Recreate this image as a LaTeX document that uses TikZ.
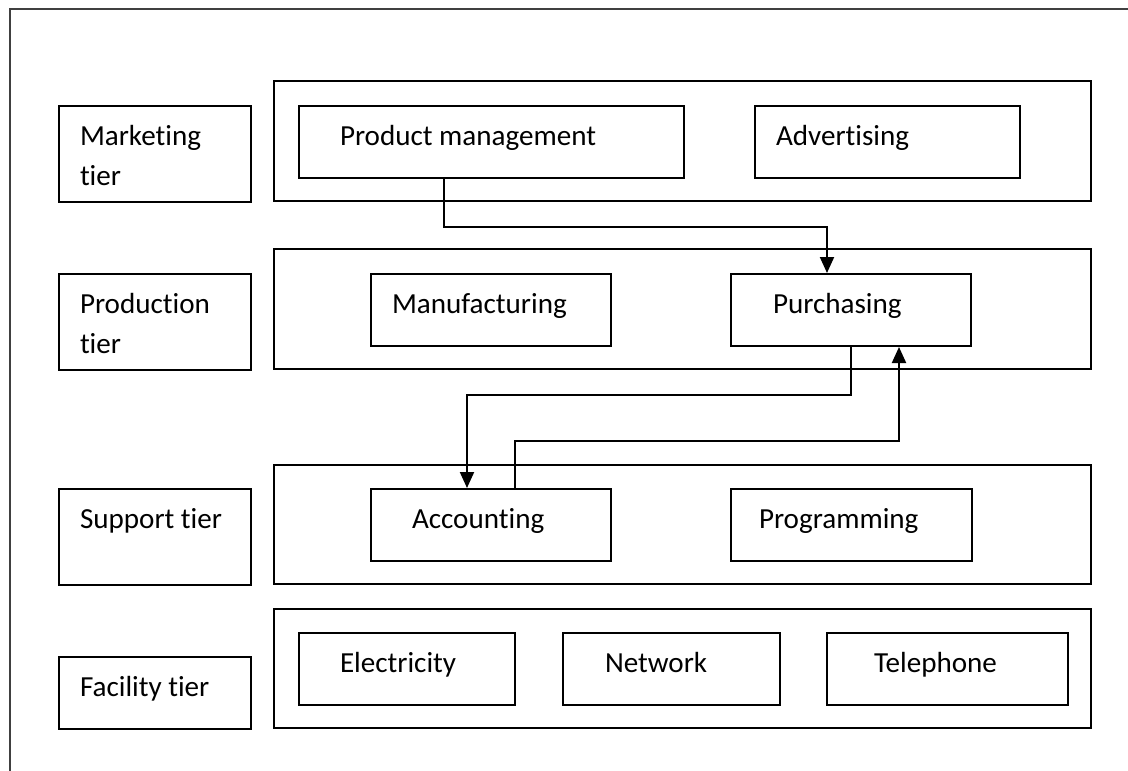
\documentclass[tikz,border=0pt]{standalone}
\usepackage{fontspec}
\setmainfont{Carlito}[Ligatures=NoCommon]
\usetikzlibrary{arrows.meta}

\begin{document}
\begin{tikzpicture}[x=1pt,y=-1pt]
    \tikzstyle{every node}=[font=\fontsize{29.1}{40}\selectfont]
    \tikzstyle{box}=[draw, line width=2pt, anchor=north west, align=left, inner ysep=0pt, text height=39.5pt,
        execute at begin node={\spaceskip=0.226em\relax}]
    \tikzstyle{tier}=[box, inner xsep=21pt, text width=150pt, text depth=56.5pt]
    \tikzstyle{unit}=[box, text depth=32.5pt]
    \tikzstyle{frame}=[draw, line width=2pt]
    \tikzstyle{flow}=[line width=2pt, -{Triangle[length=16pt,width=14pt]}]
    \useasboundingbox (0,0) rectangle (1128,771);
    \draw[line width=1.8pt, black!75] (10,771) -- (10,9) -- (1128,9);

    % tier names
    \node[tier] (mkt) at (58,105) {Marketing\\tier};
    \node[tier] (prd) at (58,273) {Production\\tier};
    \node[tier] (sup) at (58,488) {Support tier};
    \node[tier, text depth=32.5pt] (fac) at (58,656) {Facility tier};

    % one frame per tier
    \draw[frame] (273.5,81) rectangle (1091,201);
    \draw[frame] (273.5,249) rectangle (1091,369);
    \draw[frame] (273.5,465) rectangle (1091,584);
    \draw[frame] (273.5,609) rectangle (1091,728);

    % units
    \node[unit, inner xsep=41pt, text width=303pt] (pm) at (298,105) {Product management};
    \node[unit, inner xsep=21pt, text width=223pt] (adv) at (754,105) {Advertising};
    \node[unit, inner xsep=21pt, text width=198pt] (man) at (370,273) {Manufacturing};
    \node[unit, inner xsep=42pt, text width=156pt] (pur) at (730,273) {Purchasing};
    \node[unit, inner xsep=41pt, text width=158pt] (acc) at (370,488) {Accounting};
    \node[unit, inner xsep=28pt, text width=185pt] (prg) at (730,488) {Programming};
    \node[unit, inner xsep=41pt, text width=134pt] (ele) at (298,632) {Electricity};
    \node[unit, inner xsep=42pt, text width=133pt] (net) at (562,632) {Network};
    \node[unit, inner xsep=47pt, text width=147pt] (tel) at (826,632) {Telephone};

    % links
    \draw[flow] ([xshift=-48pt]pm.south) -- ++(0,48) -| ([xshift=-24pt]pur.north);
    \draw[flow] (pur.south) -- ++(0,48) -| ([xshift=-24pt]acc.north);
    \draw[flow] ([xshift=24pt]acc.north) -- ++(0,-47) -| ([xshift=48pt]pur.south);
\end{tikzpicture}
\end{document}
